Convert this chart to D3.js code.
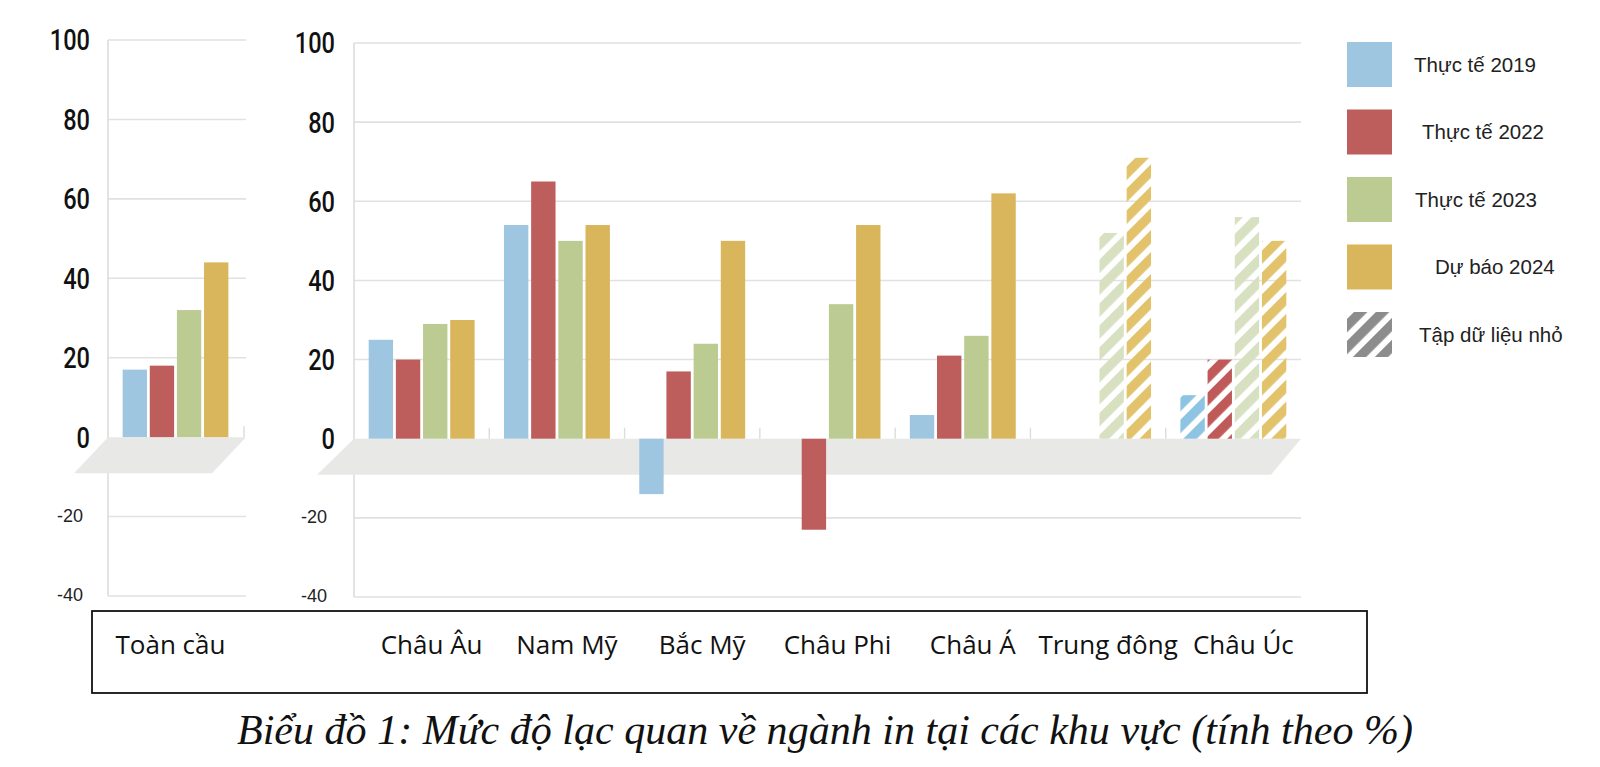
<!DOCTYPE html>
<html>
<head>
<meta charset="utf-8">
<script src="https://cdn.jsdelivr.net/npm/d3@7"></script>
<style>
    body { margin: 0; background: #fff; }
    svg { display: block; }
</style>
</head>
<body>
<svg id="chart"></svg>
<script>
// data
const series = ['Thực tế 2019', 'Thực tế 2022', 'Thực tế 2023', 'Dự báo 2024'];
const globalCategory = ['Toàn cầu'];
const globalValues = [17, 18, 32, 44];   // one value per series
const regions = ['Châu Âu', 'Nam Mỹ', 'Bắc Mỹ', 'Châu Phi', 'Châu Á', 'Trung đông', 'Châu Úc'];
const values2019 = [25, 54, -14, null, 6, null, 11];
const values2022 = [20, 65, 17, -23, 21, null, 20];
const values2023 = [29, 50, 24, 34, 26, 52, 56];
const values2024 = [30, 54, 50, 54, 62, 71, 50];
const smallSample = ['Trung đông', 'Châu Úc'];
const yTicks = [-40, -20, 0, 20, 40, 60, 80, 100];
const legendLabels = ['Thực tế 2019', 'Thực tế 2022', 'Thực tế 2023', 'Dự báo 2024', 'Tập dữ liệu nhỏ'];
const caption = 'Biểu đồ 1: Mức độ lạc quan về ngành in tại các khu vực (tính theo %)';

const colors = ['#9fc6e0', '#bd5e5d', '#bbcb91', '#d9b55c'];
const hatchColors = ['#8dc3e3', '#c05a58', '#d7e1c1', '#e2c36c'];

class PanelChart {
    constructor (config, data) {
        this.config = {
            parent: config.parent,
            left: config.left,
            right: config.right,
            gridRight: config.gridRight || config.right,
            top: config.top,
            bottom: config.bottom,
            floorShift: config.floorShift || [-34, -34],
            labelRight: config.labelRight,
            negLabelRight: config.negLabelRight,
            labelShift: config.labelShift || 0,
            labelY: config.labelY || 654,
        };
        this.data = data;
        this.init();
    }

    init() {
        let self = this;
        self.chart = self.config.parent.append('g');

        self.yscale = d3.scaleLinear()
            .domain([-40, 100])
            .range([self.config.bottom, self.config.top]);

        self.xscale = d3.scaleBand()
            .domain(self.data.map(d => d.category))
            .range([self.config.left, self.config.right]);

        self.xinner = d3.scaleBand()
            .domain(series)
            .range([0, self.xscale.bandwidth()])
            .paddingInner(0.103)
            .paddingOuter(0.54);
    }

    render() {
        let self = this;
        const c = self.config;
        const zero = self.yscale(0);

        // gridlines
        self.chart.selectAll('.grid')
            .data(yTicks.filter(t => t !== 0))
            .join('line')
            .attr('class', 'grid')
            .attr('x1', c.left).attr('x2', c.gridRight)
            .attr('y1', d => self.yscale(d)).attr('y2', d => self.yscale(d))
            .attr('stroke', '#e1e1e1')
            .attr('stroke-width', 1.6);

        // vertical axis line
        self.chart.append('line')
            .attr('x1', c.left).attr('x2', c.left)
            .attr('y1', self.yscale(100)).attr('y2', self.yscale(-40))
            .attr('stroke', '#dcdcdc')
            .attr('stroke-width', 1.6);

        // small separators sitting on the floor
        const seps = self.data.map(d => self.xscale(d.category) + self.xscale.bandwidth()).slice(0, -1);
        if (self.data.length === 1) seps.push(c.gridRight - 2);
        self.chart.selectAll('.sep')
            .data(seps)
            .join('line')
            .attr('class', 'sep')
            .attr('x1', d => d).attr('x2', d => d)
            .attr('y1', zero - 11).attr('y2', zero)
            .attr('stroke', '#dcdcdc')
            .attr('stroke-width', 1.4);

        // the grey floor
        const depth = 36;
        self.chart.append('polygon')
            .attr('points', [
                [c.left, zero],
                [c.gridRight, zero],
                [c.gridRight + c.floorShift[1], zero + depth],
                [c.left + c.floorShift[0], zero + depth]
            ].map(p => p.join(',')).join(' '))
            .attr('fill', '#e8e8e7');

        // bars
        const bars = [];
        self.data.forEach(d => {
            d.values.forEach((v, i) => {
                if (v === null) return;
                bars.push({category: d.category, series: series[i], index: i, value: v, hatched: d.hatched});
            });
        });

        self.chart.selectAll('.bar')
            .data(bars)
            .join('rect')
            .attr('class', 'bar')
            .attr('x', d => self.xscale(d.category) + self.xinner(d.series))
            .attr('y', d => self.yscale(Math.max(0, d.value)))
            .attr('width', self.xinner.bandwidth())
            .attr('height', d => Math.abs(self.yscale(d.value) - zero))
            .attr('fill', d => d.hatched ? `url(#hatch-${d.index})` : colors[d.index]);

        // tick labels: big narrow digits for 0..100, small plain ones below zero
        const pos = yTicks.filter(t => t >= 0);
        const neg = yTicks.filter(t => t < 0);

        self.chart.selectAll('.ylabel')
            .data(pos)
            .join('text')
            .attr('class', 'ylabel')
            .attr('x', c.labelRight)
            .attr('y', d => self.yscale(d))
            .attr('dy', '0.36em')
            .attr('text-anchor', 'end')
            .attr('textLength', d => String(d).length * 13.4)
            .attr('lengthAdjust', 'spacingAndGlyphs')
            .style('font-family', 'Roboto, "Liberation Sans", sans-serif')
            .style('font-weight', 500)
            .style('font-size', '29px')
            .attr('fill', '#111')
            .text(d => d);

        self.chart.selectAll('.nlabel')
            .data(neg)
            .join('text')
            .attr('class', 'nlabel')
            .attr('x', c.negLabelRight)
            .attr('y', d => self.yscale(d))
            .attr('dy', '0.3em')
            .attr('text-anchor', 'end')
            .style('font-family', '"Liberation Sans", Arial, sans-serif')
            .style('font-size', '18px')
            .attr('fill', '#222')
            .text(d => d);

        // category labels (inside the box below)
        self.chart.selectAll('.xlabel')
            .data(self.data)
            .join('text')
            .attr('class', 'xlabel')
            .attr('x', d => self.xscale(d.category) + self.xscale.bandwidth() / 2 + c.labelShift)
            .attr('y', c.labelY)
            .attr('text-anchor', 'middle')
            .style('font-family', '"Open Sans", sans-serif')
            .style('font-size', '26px')
            .attr('fill', '#111')
            .text(d => d.category);
    }
}

const svg = d3.select('#chart')
    .attr('width', 1600)
    .attr('height', 767);

svg.append('rect').attr('width', 1600).attr('height', 767).attr('fill', '#fff');

// hatch patterns for the small data sets
const defs = svg.append('defs');
hatchColors.concat(['#8c8c8c']).forEach((col, i) => {
    const p = defs.append('pattern')
        .attr('id', i < 4 ? `hatch-${i}` : 'hatch-legend')
        .attr('patternUnits', 'userSpaceOnUse')
        .attr('width', 15.5)
        .attr('height', 15.5)
        .attr('patternTransform', 'rotate(45)');
    p.append('rect')
        .attr('x', 0).attr('y', 0)
        .attr('width', 9.5).attr('height', 15.5)
        .attr('fill', col);
});

const globalData = globalCategory.map(c => ({category: c, values: globalValues, hatched: false}));
const regionData = regions.map((c, i) => ({
    category: c,
    values: [values2019[i], values2022[i], values2023[i], values2024[i]],
    hatched: smallSample.includes(c)
}));

const leftPanel = new PanelChart({
    parent: svg, left: 108, right: 243, gridRight: 246,
    top: 40, bottom: 596,
    floorShift: [-34, -34],
    labelRight: 90, negLabelRight: 83,
    labelShift: -5
}, globalData);
leftPanel.render();

const mainPanel = new PanelChart({
    parent: svg, left: 354, right: 1301, gridRight: 1301,
    top: 43, bottom: 597,
    floorShift: [-37, -30],
    labelRight: 335, negLabelRight: 327,
    labelShift: 10
}, regionData);
mainPanel.render();

// box around the category labels
svg.append('rect')
    .attr('x', 92).attr('y', 611)
    .attr('width', 1275).attr('height', 82)
    .attr('fill', 'none')
    .attr('stroke', '#111')
    .attr('stroke-width', 1.8);

// legend
const legendTextX = [1414, 1422, 1415, 1435, 1419];
const legend = svg.append('g');
legend.selectAll('rect')
    .data(legendLabels)
    .join('rect')
    .attr('x', 1347)
    .attr('y', (d, i) => 42 + i * 67.5)
    .attr('width', 45)
    .attr('height', 45)
    .attr('fill', (d, i) => i < 4 ? colors[i] : 'url(#hatch-legend)');
legend.selectAll('text')
    .data(legendLabels)
    .join('text')
    .attr('x', (d, i) => legendTextX[i])
    .attr('y', (d, i) => 42 + i * 67.5 + 22.5)
    .attr('dy', '0.35em')
    .style('font-family', '"Liberation Sans", Arial, sans-serif')
    .style('font-size', '20.5px')
    .attr('fill', '#222')
    .text(d => d);

// caption
svg.append('text')
    .attr('x', 825)
    .attr('y', 744)
    .attr('text-anchor', 'middle')
    .attr('textLength', 1176)
    .attr('lengthAdjust', 'spacingAndGlyphs')
    .style('font-family', '"Liberation Serif", "Times New Roman", serif')
    .style('font-style', 'italic')
    .style('font-size', '42px')
    .attr('fill', '#111')
    .text(caption);
</script>
</body>
</html>
